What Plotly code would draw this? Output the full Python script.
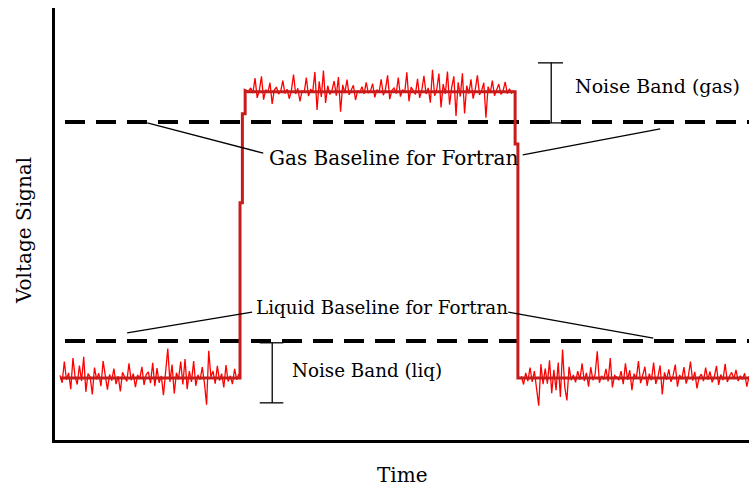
import numpy as np
import plotly.graph_objects as go

# --- data (time and voltage in arbitrary units, 0-100)
step_time = [0.72, 26.66, 26.66, 27.0, 27.0, 27.4, 27.4, 27.8, 66.3, 66.3, 66.7, 66.7, 100]
step_level = [14.35, 14.35, 54.9, 54.9, 75.5, 75.5, 80.9, 80.6, 80.6, 68.5, 68.5, 14.35, 14.35]

liq_level = 14.35
gas_level = 80.6

# noise segments: (start, end) and deviations around the level
liq1_span = [0.72, 26.5]
noise_liq1 = [0.6, -1.1, 3.8, -0.4, 1.2, -2.6, 4.6, 0.3, -1.5, 2.9, -0.7, 4.9, -3.2, 1.0, 0.2, -3.8,
              2.4, -0.3, 1.1, -1.9, 3.9, 0.5, -2.7, 0.8, -0.6, 2.2, -1.4, 0.4, -3.1, 1.3, 0.2, -0.8,
              3.4, -0.5, 1.0, -2.1, 0.7, -0.2, 2.6, -1.6, 0.8, 1.4, -1.2, 3.5, -1.9, 2.3, -1.1, 0.5,
              -4.0, 1.7, 6.8, -0.9, 3.1, -3.6, 1.2, -0.3, 3.8, -1.5, 4.4, -2.6, 1.6, -0.9, 3.9, -1.8,
              0.7, -0.4, 2.5, -1.2, -6.2, 6.3, 0.3, 1.6, -1.3, 2.8, -0.6, 1.0, -2.2, 3.0, -0.8, 0.5,
              -1.4, 2.1, -0.4, 1.0]

gas_span = [27.9, 66.1]
noise_gas = [0.2, 0.9, -0.3, 3.2, -1.4, 0.3, 3.6, -1.8, 0.5, -0.2, 2.1, -2.8, 0.4, 1.1, -0.5, 0.1,
             2.6, -0.4, 0.6, -1.6, 0.3, 4.0, -0.5, 0.8, -2.2, 0.2, -0.1, 3.3, -1.0, 0.5, 0.1, 4.6,
             -4.2, 2.4, -1.2, 4.9, -2.6, 1.4, -0.6, 0.4, 2.5, -0.9, 3.4, -4.6, 1.6, -0.3, 2.8, -0.7,
             0.4, 1.5, -1.9, 0.3, -0.2, 1.2, -0.5, 2.2, -0.3, 0.2, 1.9, -1.3, 0.5, -0.1, 2.9, -0.8,
             0.6, 3.8, -1.7, 0.3, 0.9, -0.4, 3.3, -1.1, 0.5, -0.2, 4.5, -2.2, 1.1, 0.3, -0.6, 3.0,
             -1.4, 0.4, 3.7, -0.5, 0.9, -2.5, 5.1, -0.9, 0.6, 4.2, -3.6, 1.8, -0.5, 4.7, -3.0, 1.1,
             3.6, -5.6, 2.2, -1.1, 4.3, -5.0, 1.4, -0.4, 2.9, -1.6, 0.5, 3.8, -0.7, 0.3, 2.1, -6.0,
             1.2, -0.3, 2.6, -0.9, 0.5, 1.8, -0.6, 0.2, 2.3, -0.4, 0.7, -0.3, 0.3]

liq2_span = [67.2, 100]
noise_liq2 = [0.4, -1.5, 1.2, -0.7, 2.4, -0.9, 1.6, -3.0, -6.4, 3.2, -1.4, 2.2, -1.3, 4.1, -3.5, 1.9,
              -2.8, 3.6, -4.4, 6.6, -2.0, -5.2, 2.6, -0.5, 0.7, -1.0, 1.6, -0.4, 3.4, -0.7, 1.2, -2.0,
              2.5, -0.5, 0.8, 6.2, -1.1, 0.5, -0.3, 2.1, -0.8, 4.6, -2.2, 0.6, 0.2, -0.5, 1.6, -1.4,
              3.4, -0.4, 1.8, -2.8, 1.0, -0.2, 3.9, -1.2, 0.5, 2.6, -1.8, 1.0, -0.5, 3.6, -1.4, 0.3,
              2.9, -3.8, 1.3, -0.4, 2.0, -0.9, 0.6, 3.1, -2.0, 0.7, -0.3, 2.5, -1.3, 0.4, 3.8, -0.6,
              1.4, -2.4, 0.2, 0.9, -0.7, 2.4, -0.4, 1.5, -1.0, 0.3, 2.8, -1.6, 0.8, -0.5, 3.3, -0.9,
              0.4, 1.3, -0.2, 1.9, -0.7, 0.5, -0.3, 1.1, -2.0, 0.4]

baseline_span = [1.44, 100]
gas_baseline = 73.6
liq_baseline = 22.9

font = "DejaVu Serif"

# --- build noisy trace (segments separated by gaps)
noisy_x, noisy_y = [], []
for span, level, noise in [(liq1_span, liq_level, noise_liq1),
                           (gas_span, gas_level, noise_gas),
                           (liq2_span, liq_level, noise_liq2)]:
    t = np.linspace(span[0], span[1], len(noise))
    noisy_x += list(t) + [None]
    noisy_y += list(level + np.array(noise)) + [None]

fig = go.Figure()
fig.add_trace(go.Scatter(x=baseline_span, y=[gas_baseline] * 2, mode="lines",
                         line=dict(color="black", width=4, dash="20px,11px")))
fig.add_trace(go.Scatter(x=baseline_span, y=[liq_baseline] * 2, mode="lines",
                         line=dict(color="black", width=4, dash="20px,11px")))
fig.add_trace(go.Scatter(x=noisy_x, y=noisy_y, mode="lines",
                         line=dict(color="#ff0000", width=1.3)))
fig.add_trace(go.Scatter(x=step_time, y=step_level, mode="lines",
                         line=dict(color="#c81c1c", width=3)))

# leader lines and noise band markers
thin = dict(color="black", width=1.3)
for x0, y0, x1, y1 in [(13.3, 73.4, 30.0, 66.4), (67.4, 66.0, 87.2, 72.0),
                       (10.4, 24.8, 28.4, 29.6), (65.3, 29.6, 86.2, 23.6),
                       (71.5, 87.3, 71.5, 73.4), (69.6, 87.3, 73.2, 87.3), (69.6, 73.4, 73.2, 73.4),
                       (31.3, 22.5, 31.3, 8.6), (29.5, 22.5, 32.9, 22.5), (29.5, 8.6, 32.9, 8.6)]:
    fig.add_shape(type="line", x0=x0, y0=y0, x1=x1, y1=y1, line=thin)

txt = dict(family=font, size=20, color="black")
fig.add_annotation(x=48.8, y=65.3, text="Gas Baseline for Fortran", showarrow=False, font=txt)
fig.add_annotation(x=47.1, y=30.6, text="Liquid Baseline for Fortran", showarrow=False,
                   font=dict(family=font, size=18.3, color="black"))
fig.add_annotation(x=74.6, y=81.9, text="Noise Band (gas)", showarrow=False, xanchor="left",
                   font=dict(family=font, size=19, color="black"))
fig.add_annotation(x=33.9, y=16.2, text="Noise Band (liq)", showarrow=False, xanchor="left",
                   font=dict(family=font, size=18.3, color="black"))
fig.add_annotation(x=-0.0447, y=0.486, xref="paper", yref="paper", text="Voltage Signal",
                   textangle=-90, showarrow=False, xanchor="center", yanchor="middle", font=txt)
fig.add_annotation(x=0.5, y=-0.081, xref="paper", yref="paper", text="Time",
                   showarrow=False, xanchor="center", yanchor="middle", font=txt)

fig.update_xaxes(range=[0, 100], showgrid=False, zeroline=False, showticklabels=False,
                 showline=True, linecolor="black", linewidth=3, ticks="")
fig.update_yaxes(range=[0, 100], showgrid=False, zeroline=False, showticklabels=False,
                 showline=True, linecolor="black", linewidth=3, ticks="")
fig.update_layout(width=749, height=489, showlegend=False,
                  plot_bgcolor="white", paper_bgcolor="white",
                  margin=dict(l=55, r=0, t=8, b=49))

# page body has a default 8px margin; remove it so the figure sits at the corner
fig.write_html("out.html", config={"displayModeBar": False},
               post_script="document.body.style.margin='0';document.body.style.overflow='hidden';")
